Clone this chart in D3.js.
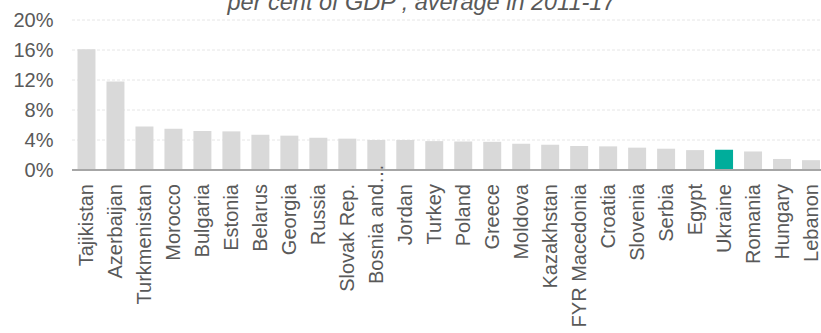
<!DOCTYPE html>
<html>
<head>
<meta charset="utf-8">
<script src="https://cdn.jsdelivr.net/npm/d3@7"></script>
<style>
  html, body { margin: 0; padding: 0; background: #ffffff; }
  svg { display: block; }
  text { font-family: "Liberation Sans", Arial, sans-serif; fill: #595959; }
</style>
</head>
<body>
<svg id="chart" width="821" height="333"></svg>
<script>
const titleText = "per cent of GDP , average in 2011-17";
const categories = ["Tajikistan","Azerbaijan","Turkmenistan","Morocco","Bulgaria","Estonia","Belarus","Georgia","Russia","Slovak Rep.","Bosnia and\u2026","Jordan","Turkey","Poland","Greece","Moldova","Kazakhstan","FYR Macedonia","Croatia","Slovenia","Serbia","Egypt","Ukraine","Romania","Hungary","Lebanon"];
const values = [16.1,11.8,5.8,5.5,5.2,5.15,4.7,4.58,4.3,4.18,4.0,4.0,3.85,3.8,3.76,3.5,3.37,3.2,3.15,2.98,2.84,2.65,2.7,2.47,1.47,1.31];
const highlight = ["Ukraine"];
const yTicks = [0,4,8,12,16,20];

const svg = d3.select("#chart");
const x = d3.scaleBand().domain(categories).range([72, 825.5]).paddingInner(0.38).paddingOuter(0.19);
const y = d3.scaleLinear().domain([0, 20]).range([170, 20]);

// gridlines
svg.append("g").selectAll("line").data(yTicks.filter(d => d > 0)).join("line")
  .attr("x1", 72).attr("x2", 821)
  .attr("y1", d => y(d)).attr("y2", d => y(d))
  .attr("stroke", "#e6e6e6").attr("stroke-width", 1).attr("stroke-dasharray", "3,2");

// y tick labels
svg.append("g").selectAll("text").data(yTicks).join("text")
  .attr("x", 53.5).attr("y", d => y(d)).attr("dy", "0.35em")
  .attr("text-anchor", "end").style("font-size", "20px")
  .text(d => d + "%");

// bars
svg.append("g").selectAll("rect").data(categories).join("rect")
  .attr("x", d => x(d)).attr("width", x.bandwidth())
  .attr("y", (d, i) => y(values[i])).attr("height", (d, i) => y(0) - y(values[i]))
  .attr("fill", d => highlight.includes(d) ? "#00ad9b" : "#d9d9d9");

// axis line
svg.append("line").attr("x1", 72).attr("x2", 821).attr("y1", 170).attr("y2", 170)
  .attr("stroke", "#a6a6a6").attr("stroke-width", 2);

// x labels
const xl = svg.append("g").selectAll("text").data(categories).join("text")
  .attr("transform", d => `translate(${x(d) + x.bandwidth() / 2},184) rotate(-90)`)
  .attr("x", 0).attr("dy", "0.35em")
  .attr("text-anchor", "end").style("font-size", "20px")
  .text(d => d);
xl.each(function(d) {
  if (d.endsWith("\u2026")) {
    const w = this.getSubStringLength(d.length - 1, 1);
    d3.select(this).attr("x", w);
  }
});

// title (partially cut at top, as in the reference)
svg.append("text").attr("x", 421.5).attr("y", 10)
  .attr("text-anchor", "middle").style("font-size", "23.5px").style("font-style", "italic")
  .text(titleText);
</script>
</body>
</html>
